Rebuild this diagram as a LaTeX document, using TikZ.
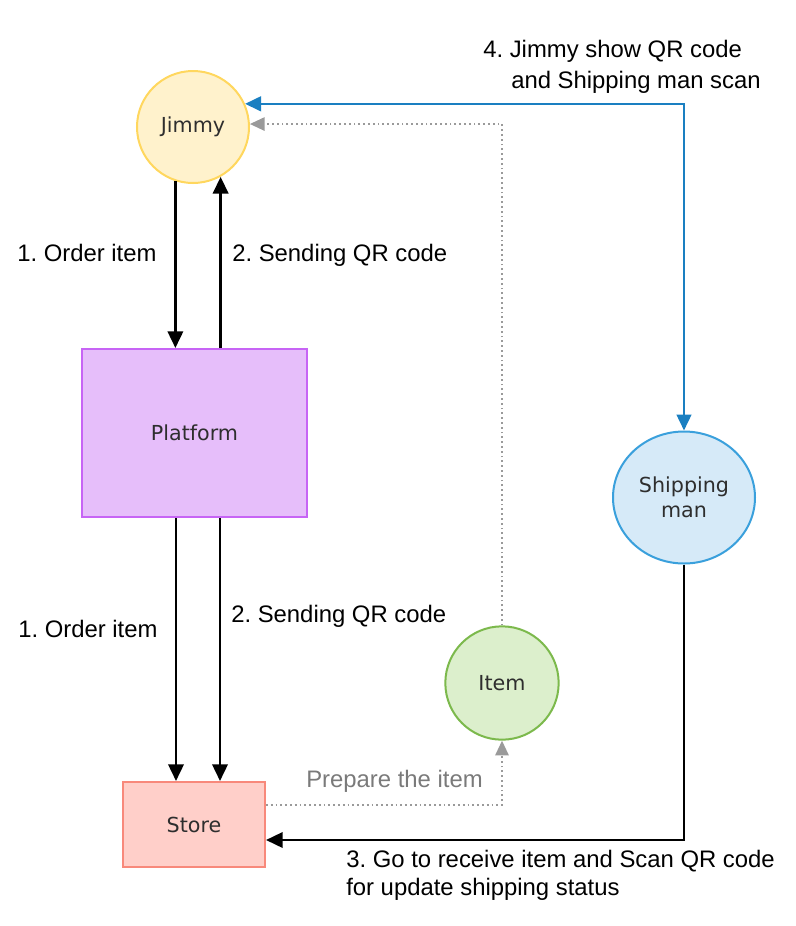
\documentclass[tikz,border=0pt]{standalone}
\usepackage{fontspec}
\setmainfont{Liberation Sans}
\newfontfamily\nodefont{DejaVu Sans}
\usetikzlibrary{arrows.meta,shapes.geometric}
\frenchspacing
\definecolor{jfill}{HTML}{FFF2CC}
\definecolor{jdraw}{HTML}{FFD75E}
\definecolor{pfill}{HTML}{E6BEFA}
\definecolor{pdraw}{HTML}{C764F5}
\definecolor{sfill}{HTML}{FFCFC9}
\definecolor{sdraw}{HTML}{F8897B}
\definecolor{ifill}{HTML}{DCEFCC}
\definecolor{idraw}{HTML}{7CB94C}
\definecolor{mfill}{HTML}{D6EAF8}
\definecolor{mdraw}{HTML}{3AA0DC}
\definecolor{blueline}{HTML}{1A7FC1}
\definecolor{dotgray}{HTML}{9A9A9A}
\definecolor{txtgray}{HTML}{7A7A7A}
\definecolor{nodetxt}{HTML}{2E2E2E}
\begin{document}
\begin{tikzpicture}[x=0.75pt,y=-0.75pt,
  base/.style={line width=1.5pt, text=nodetxt, font=\nodefont\fontsize{15.5}{19}\selectfont, align=center, inner sep=0pt},
  circ/.style={base, circle, minimum size=#1},
  boxnode/.style={base, rectangle, minimum width=#1},
  lbl/.style={anchor=base west, inner sep=0pt, font=\fontsize{17.9}{24}\selectfont, text=black},
  blk/.style={line width=1.9pt, black, -{Triangle[length=12.5pt,width=11.5pt]}},
  blu/.style={line width=1.9pt, blueline, {Triangle[length=12pt,width=11pt]}-{Triangle[length=12pt,width=11pt]}},
  dots/.style={line width=1.3pt, dotgray, dash pattern=on 1.3pt off 2.3pt, -{Triangle[length=11pt,width=10pt]}}
]
\useasboundingbox (0,0) rectangle (796,926);

\node[circ=84pt, fill=jfill, draw=jdraw] (Jimmy) at (193,127) {Jimmy};
\node[boxnode=168.75pt, minimum height=126pt, fill=pfill, draw=pdraw] (Platform) at (194.5,433) {Platform};
\node[boxnode=106.5pt, minimum height=63.75pt, fill=sfill, draw=sdraw] (Store) at (194,824.5) {Store};
\node[circ=85pt, fill=ifill, draw=idraw] (Item) at (502,683) {Item};
\node[base, ellipse, minimum width=106.5pt, minimum height=99pt, fill=mfill, draw=mdraw] (Ship) at (684,497.5) {Shipping\\man};

% Jimmy <-> Platform
\draw[blk] (Jimmy.252) -- (Jimmy.252 |- Platform.north);
\draw[blk] (Jimmy.299 |- Platform.north) -- (Jimmy.299);
% Platform -> Store
\draw[blk] (176,0 |- Platform.south) -- (176,0 |- Store.north);
\draw[blk] (220,0 |- Platform.south) -- (220,0 |- Store.north);
% Jimmy <-> Shipping man
\draw[blu] (Jimmy.24) -| (Ship.north);
% Shipping man -> Store
\draw[blk] (Ship.south) |- (Store.east |- 0,840);
% Store -> Item (dotted)
\draw[dots] (Store.east |- 0,805) -| (Item.south);
% Item -> Jimmy (dotted)
\draw[dots] (Item.north) |- (Jimmy.3);

% labels
\node[lbl] (l4a) at (483,57) {4. Jimmy show QR code};
\node[lbl] (l4b) at (511,88) {and Shipping man scan};
\node[lbl] (l1a) at (17,261) {1. Order item};
\node[lbl] (l2a) at (232,261) {2. Sending QR code};
\node[lbl] (l1b) at (18,637) {1. Order item};
\node[lbl] (l2b) at (231,622) {2. Sending QR code};
\node[lbl, text=txtgray] (lp) at (306,787) {Prepare the item};
\node[lbl] (l3a) at (346,867) {3. Go to receive item and Scan QR code};
\node[lbl] (l3b) at (346,895) {for update shipping status};
\end{tikzpicture}
\end{document}
